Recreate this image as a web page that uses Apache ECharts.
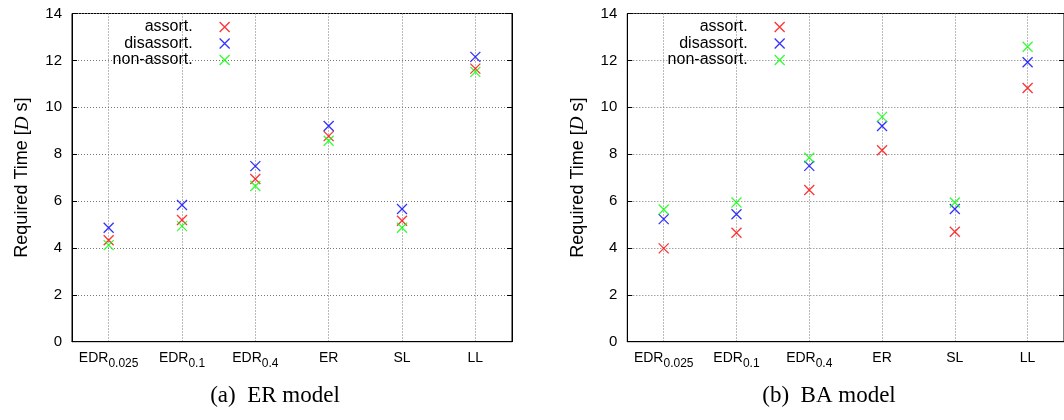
<!DOCTYPE html>
<html>
<head>
<meta charset="utf-8">
<script src="https://cdn.jsdelivr.net/npm/echarts@6/dist/echarts.min.js"></script>
<style>html,body{margin:0;padding:0;background:#fff;}#c{width:1064px;height:420px;}</style>
</head>
<body>
<div id="c"></div>
<script>
// ---- data ----
const categories = ['EDR0.025', 'EDR0.1', 'EDR0.4', 'ER', 'SL', 'LL'];
const catBase = ['EDR', 'EDR', 'EDR', 'ER', 'SL', 'LL'];
const catSub = ['0.025', '0.1', '0.4', '', '', ''];
const seriesNames = ['assort.', 'disassort.', 'non-assort.'];
const seriesColors = ['#ff0000', '#0000ff', '#00ff00'];
// (a) ER model
const erAssort = [4.33, 5.19, 6.94, 8.77, 5.16, 11.65];
const erDisassort = [4.86, 5.83, 7.49, 9.20, 5.66, 12.15];
const erNonAssort = [4.12, 4.93, 6.64, 8.57, 4.86, 11.51];
// (b) BA model
const baAssort = [3.98, 4.65, 6.47, 8.17, 4.69, 10.82];
const baDisassort = [5.23, 5.44, 7.50, 9.20, 5.66, 11.92];
const baNonAssort = [5.64, 5.94, 7.85, 9.59, 5.94, 12.58];
const yTicks = [0, 2, 4, 6, 8, 10, 12, 14];
const captions = ['(a)  ER model', '(b)  BA model'];

// ---- chart ----
const FONT = 'Liberation Sans, Arial, Helvetica, sans-serif';
const XSYM = 'path://M0,0L10,10M10,0L0,10';
const grids = [
  {left: 72, top: 13.5, width: 440, height: 328.2},
  {left: 627.3, top: 13.5, width: 440, height: 328.2}
];
const dataSets = [[erAssort, erDisassort, erNonAssort], [baAssort, baDisassort, baNonAssort]];

const xAxes = [], yAxes = [], series = [], legends = [];
grids.forEach((g, gi) => {
  xAxes.push({
    type: 'category', gridIndex: gi, data: categories, boundaryGap: true,
    axisLine: {show: true, lineStyle: {color: '#000', width: 1}},
    axisTick: {show: false},
    splitLine: {show: true, alignWithLabel: true, lineStyle: {color: '#777', type: [1, 2], width: 1}},
    axisLabel: {
      margin: 9, color: '#000', interval: 0,
      formatter: (v, i) => catSub[i] ? '{m|' + catBase[i] + '}{s|' + catSub[i] + '}' : '{m|' + catBase[i] + '}',
      rich: {
        m: {fontFamily: FONT, fontSize: 14, lineHeight: 16, verticalAlign: 'top', color: '#000'},
        s: {fontFamily: FONT, fontSize: 12, lineHeight: 14, padding: [7, 0, 0, 0], verticalAlign: 'top', color: '#000'}
      }
    }
  });
  yAxes.push({
    type: 'value', gridIndex: gi, min: yTicks[0], max: yTicks[yTicks.length - 1], interval: 2,
    axisLine: {show: true, lineStyle: {color: '#000', width: 1}},
    axisTick: {show: true, inside: true, length: 5, lineStyle: {color: '#000'}},
    splitLine: {show: true, lineStyle: {color: '#777', type: [1, 2], width: 1}},
    axisLabel: {margin: 10, color: '#000', fontFamily: FONT, fontSize: 15},
    name: 'Required Time [{i|D} s]',
    nameLocation: 'middle', nameRotate: 90, nameGap: 40,
    nameTextStyle: {fontFamily: FONT, fontSize: 18, color: '#000',
      rich: {i: {fontFamily: 'Liberation Serif, Times New Roman, serif', fontStyle: 'italic', fontSize: 19, color: '#000'}}}
  });
  yAxes.push({
    type: 'value', gridIndex: gi, position: 'right', min: yTicks[0], max: yTicks[yTicks.length - 1], interval: 2,
    axisLine: {show: true, lineStyle: {color: '#000', width: 1}},
    axisTick: {show: true, inside: true, length: 5, lineStyle: {color: '#000'}},
    splitLine: {show: false},
    axisLabel: {show: false}
  });
  dataSets[gi].forEach((vals, si) => {
    series.push({
      type: 'scatter', name: seriesNames[si], xAxisIndex: gi, yAxisIndex: gi * 2,
      data: vals, symbol: XSYM, symbolSize: 10,
      itemStyle: {color: 'transparent', borderColor: seriesColors[si], borderWidth: 1.3},
      emphasis: {disabled: true}, z: 3 + si
    });
  });
});

// legends (one per entry, right-aligned text, icon on the right)
const legendIconCenter = [223.3, 778.3];
const legendRows = [27, 43.5, 60];
legendIconCenter.forEach((cx) => {
  seriesNames.forEach((nm, si) => {
    legends.push({
      data: [nm], orient: 'vertical', align: 'right',
      right: 1064 - (cx + 7), top: legendRows[si] - 8,
      padding: 0, itemWidth: 54, itemHeight: 10, itemGap: 0,
      icon: XSYM, selectedMode: false,
      itemStyle: {color: 'transparent', borderColor: seriesColors[si], borderWidth: 1.3},
      textStyle: {fontFamily: FONT, fontSize: 16, lineHeight: 16, color: '#000', padding: 0}
    });
  });
});

const chart = echarts.init(document.getElementById('c'), null, {renderer: 'canvas'});
chart.setOption({
  animation: false,
  backgroundColor: '#fff',
  grid: grids.map(g => Object.assign({show: true, borderColor: '#000', borderWidth: 1, backgroundColor: 'transparent'}, g)),
  xAxis: xAxes,
  yAxis: yAxes,
  legend: legends,
  series: series,
  graphic: [
    {type: 'text', x: 275, y: 396, style: {text: captions[0], font: '23px "Liberation Serif", "Times New Roman", serif', fill: '#000', textAlign: 'center', textVerticalAlign: 'middle'}},
    {type: 'text', x: 829, y: 396, style: {text: captions[1], font: '23px "Liberation Serif", "Times New Roman", serif', fill: '#000', textAlign: 'center', textVerticalAlign: 'middle'}}
  ]
});
</script>
</body>
</html>
